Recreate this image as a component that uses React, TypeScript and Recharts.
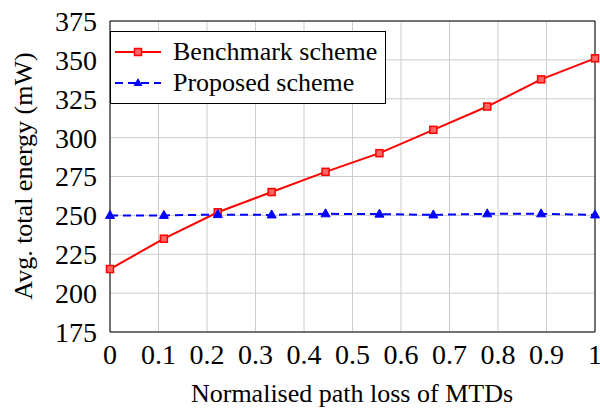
import {
  LineChart,
  Line,
  XAxis,
  YAxis,
  CartesianGrid,
  Legend,
  Label,
  ReferenceLine,
} from "recharts";

const pathLoss = [0, 1 / 9, 2 / 9, 3 / 9, 4 / 9, 5 / 9, 6 / 9, 7 / 9, 8 / 9, 1];
const benchmark = [215.5, 235, 252, 265, 278, 290, 305, 320, 337.5, 351];
const proposed = [250, 250, 250.5, 250.3, 251, 250.8, 250.3, 251, 251, 250.3];

const xTicks = [0, 0.1, 0.2, 0.3, 0.4, 0.5, 0.6, 0.7, 0.8, 0.9, 1];
const yTicks = [175, 200, 225, 250, 275, 300, 325, 350, 375];

const seriesNames = ["Benchmark scheme", "Proposed scheme"];

const data = pathLoss.map((x, i) => ({
  x,
  benchmark: benchmark[i],
  proposed: proposed[i],
}));

const FONT = "Liberation Serif";

const SquareDot = (props: any) => {
  const { cx, cy, index } = props;
  if (cx == null || cy == null) return null;
  return (
    <rect
      key={"sq" + index}
      x={cx - 3.5}
      y={cy - 3.5}
      width={7}
      height={7}
      fill="#ff6666"
      stroke="#ff0000"
      strokeWidth={1.5}
    />
  );
};

const TriangleDot = (props: any) => {
  const { cx, cy, index } = props;
  if (cx == null || cy == null) return null;
  return (
    <path
      key={"tr" + index}
      d={`M${cx},${cy - 5} L${cx + 4.5},${cy + 3} L${cx - 4.5},${cy + 3} Z`}
      fill="#0000ff"
      stroke="#0000ff"
      strokeWidth={1}
    />
  );
};

const LegendBox = () => (
  <div
    style={{
      width: 274,
      height: 67,
      border: "1px solid #000",
      background: "#fff",
      fontFamily: FONT,
      fontSize: 26,
      lineHeight: "31px",
      paddingTop: 4,
      boxSizing: "content-box",
    }}
  >
    {seriesNames.map((name, i) => (
      <div key={name} style={{ display: "flex", alignItems: "center", height: 31 }}>
        <svg width={52} height={20} style={{ marginLeft: 4, marginRight: 6 }}>
          {i === 0 ? (
            <>
              <line x1={0} y1={10} x2={46} y2={10} stroke="#ff0000" strokeWidth={2} />
              <rect x={19.5} y={6.5} width={7} height={7} fill="#ff6666" stroke="#ff0000" strokeWidth={1.5} />
            </>
          ) : (
            <>
              <line x1={0} y1={10} x2={46} y2={10} stroke="#0000ff" strokeWidth={2} strokeDasharray="8 5" />
              <path d="M23,5 L27.5,13 L18.5,13 Z" fill="#0000ff" />
            </>
          )}
        </svg>
        <span>{name}</span>
      </div>
    ))}
  </div>
);

export default function App() {
  return (
    <div style={{ position: "absolute", left: 0, top: 0, background: "#fff" }}>
      <LineChart
        width={600}
        height={408}
        data={data}
        margin={{ top: 21, right: 5, bottom: 16, left: 10 }}
      >
        <CartesianGrid stroke="#cccccc" strokeWidth={1} horizontalValues={yTicks} verticalValues={xTicks} />
        <XAxis
          dataKey="x"
          type="number"
          domain={[0, 1]}
          ticks={xTicks}
          interval={0}
          height={60}
          tickLine={false}
          tickSize={0}
          tickMargin={12}
          tickFormatter={(v: number) => String(Math.round(v * 10) / 10)}
          tick={{ fill: "#000", fontSize: 28, fontFamily: FONT }}
          axisLine={{ stroke: "#000", strokeWidth: 1 }}
        >
          <Label
            content={() => (
              <text x={352} y={402} textAnchor="middle" fontFamily={FONT} fontSize={26} fill="#000">
                Normalised path loss of MTDs
              </text>
            )}
          />
        </XAxis>
        <YAxis
          type="number"
          domain={[175, 375]}
          ticks={yTicks}
          interval={0}
          width={100}
          tickLine={false}
          tickSize={0}
          tickMargin={13}
          tick={{ fill: "#000", fontSize: 28, fontFamily: FONT }}
          axisLine={{ stroke: "#000", strokeWidth: 1 }}
        >
          <Label
            content={() => (
              <text
                x={32}
                y={176}
                transform="rotate(-90 32 176)"
                textAnchor="middle"
                fontFamily={FONT}
                fontSize={26}
                fill="#000"
              >
                Avg. total energy (mW)
              </text>
            )}
          />
        </YAxis>
        <ReferenceLine y={375} stroke="#000" strokeWidth={1} />
        <ReferenceLine x={1} stroke="#000" strokeWidth={1} />
        <Legend
          layout="vertical"
          align="center"
          verticalAlign="middle"
          wrapperStyle={{ position: "absolute", left: 110, top: 31, width: "auto" }}
          content={() => <LegendBox />}
        />
        <Line
          type="linear"
          dataKey="benchmark"
          name={seriesNames[0]}
          stroke="#ff0000"
          strokeWidth={2}
          dot={SquareDot}
          activeDot={false}
          isAnimationActive={false}
        />
        <Line
          type="linear"
          dataKey="proposed"
          name={seriesNames[1]}
          stroke="#0000ff"
          strokeWidth={2}
          strokeDasharray="8 5"
          dot={TriangleDot}
          activeDot={false}
          isAnimationActive={false}
        />
      </LineChart>
    </div>
  );
}
